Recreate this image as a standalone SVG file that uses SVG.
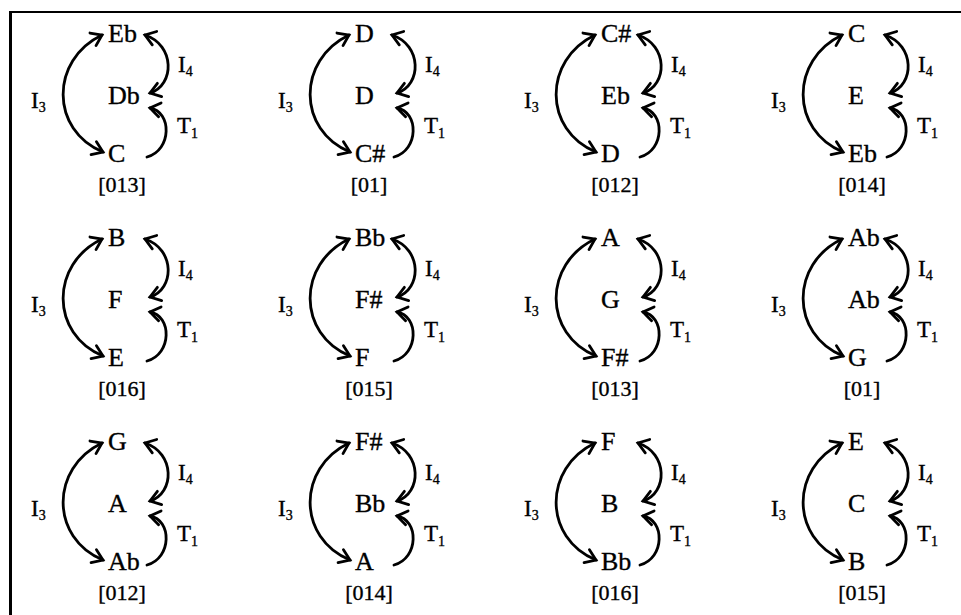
<svg xmlns="http://www.w3.org/2000/svg" width="961" height="615" viewBox="0 0 961 615">
<style>
text{font-family:"Liberation Serif","Times New Roman",serif;fill:#000;stroke:#000;stroke-width:0.35}
.n{font-size:26px}
.lb{font-size:22px;text-anchor:middle}
.op{font-size:23px}
.sub{font-size:14px}
.c{fill:none;stroke:#000;stroke-width:2.8;stroke-linecap:round}
.i3{marker-start:url(#ah);marker-end:url(#ah)}
.i4{marker-start:url(#ah);marker-end:url(#ah)}
.t1{marker-end:url(#ah)}
</style>
<defs>
<marker id="ah" viewBox="-13 -10 16 20" refX="0" refY="0" markerWidth="16" markerHeight="20" markerUnits="userSpaceOnUse" orient="auto-start-reverse">
<path d="M-10,-7 L0,0 L-10,7" fill="none" stroke="#000" stroke-width="2.8" stroke-linejoin="miter" stroke-linecap="round"/>
</marker>
<g id="ops">
<text class="op" x="-77" y="66">I<tspan class="sub" dy="4">3</tspan></text>
<text class="op" x="70" y="30">I<tspan class="sub" dy="4">4</tspan></text>
<text class="op" x="69" y="91">T<tspan class="sub" dy="5">1</tspan></text>
</g>
</defs>
<rect width="961" height="615" fill="#fff"/>
<g id="frame" stroke="#000" fill="none">
<line x1="9" y1="12" x2="961" y2="12" stroke-width="2.2"/>
<line x1="10.5" y1="11" x2="10.5" y2="615" stroke-width="3"/>
</g>

<g id="connectors">
<g transform="translate(108,42)"><path class="c i3" d="M-6,-7 C-58,18 -58,88 -5,110"/><path class="c i4" d="M37,-7 C67,3 67,43 42,51"/><path class="c t1" d="M39,115 C64,108 64,70 42,66"/></g>
<g transform="translate(355,42)"><path class="c i3" d="M-6,-7 C-58,18 -58,88 -5,110"/><path class="c i4" d="M37,-7 C67,3 67,43 42,51"/><path class="c t1" d="M39,115 C64,108 64,70 42,66"/></g>
<g transform="translate(601,42)"><path class="c i3" d="M-6,-7 C-58,18 -58,88 -5,110"/><path class="c i4" d="M37,-7 C67,3 67,43 42,51"/><path class="c t1" d="M39,115 C64,108 64,70 42,66"/></g>
<g transform="translate(848,42)"><path class="c i3" d="M-6,-7 C-58,18 -58,88 -5,110"/><path class="c i4" d="M37,-7 C67,3 67,43 42,51"/><path class="c t1" d="M39,115 C64,108 64,70 42,66"/></g>
<g transform="translate(108,246)"><path class="c i3" d="M-6,-7 C-58,18 -58,88 -5,110"/><path class="c i4" d="M37,-7 C67,3 67,43 42,51"/><path class="c t1" d="M39,115 C64,108 64,70 42,66"/></g>
<g transform="translate(355,246)"><path class="c i3" d="M-6,-7 C-58,18 -58,88 -5,110"/><path class="c i4" d="M37,-7 C67,3 67,43 42,51"/><path class="c t1" d="M39,115 C64,108 64,70 42,66"/></g>
<g transform="translate(601,246)"><path class="c i3" d="M-6,-7 C-58,18 -58,88 -5,110"/><path class="c i4" d="M37,-7 C67,3 67,43 42,51"/><path class="c t1" d="M39,115 C64,108 64,70 42,66"/></g>
<g transform="translate(848,246)"><path class="c i3" d="M-6,-7 C-58,18 -58,88 -5,110"/><path class="c i4" d="M37,-7 C67,3 67,43 42,51"/><path class="c t1" d="M39,115 C64,108 64,70 42,66"/></g>
<g transform="translate(108,450)"><path class="c i3" d="M-6,-7 C-58,18 -58,88 -5,110"/><path class="c i4" d="M37,-7 C67,3 67,43 42,51"/><path class="c t1" d="M39,115 C64,108 64,70 42,66"/></g>
<g transform="translate(355,450)"><path class="c i3" d="M-6,-7 C-58,18 -58,88 -5,110"/><path class="c i4" d="M37,-7 C67,3 67,43 42,51"/><path class="c t1" d="M39,115 C64,108 64,70 42,66"/></g>
<g transform="translate(601,450)"><path class="c i3" d="M-6,-7 C-58,18 -58,88 -5,110"/><path class="c i4" d="M37,-7 C67,3 67,43 42,51"/><path class="c t1" d="M39,115 C64,108 64,70 42,66"/></g>
<g transform="translate(848,450)"><path class="c i3" d="M-6,-7 C-58,18 -58,88 -5,110"/><path class="c i4" d="M37,-7 C67,3 67,43 42,51"/><path class="c t1" d="M39,115 C64,108 64,70 42,66"/></g>
</g>

<g id="cell-r0c0" transform="translate(108,42)">
<g id="r0c0-top"><text class="n" x="0" y="0">Eb</text></g>
<g id="r0c0-mid"><text class="n" x="0" y="62">Db</text></g>
<g id="r0c0-bot"><text class="n" x="0" y="120">C</text></g>
<text class="lb" x="14" y="150">[013]</text><use href="#ops"/>
</g>
<g id="cell-r0c1" transform="translate(355,42)">
<g id="r0c1-top"><text class="n" x="0" y="0">D</text></g>
<g id="r0c1-mid"><text class="n" x="0" y="62">D</text></g>
<g id="r0c1-bot"><text class="n" x="0" y="120">C#</text></g>
<text class="lb" x="14" y="150">[01]</text><use href="#ops"/>
</g>
<g id="cell-r0c2" transform="translate(601,42)">
<g id="r0c2-top"><text class="n" x="0" y="0">C#</text></g>
<g id="r0c2-mid"><text class="n" x="0" y="62">Eb</text></g>
<g id="r0c2-bot"><text class="n" x="0" y="120">D</text></g>
<text class="lb" x="14" y="150">[012]</text><use href="#ops"/>
</g>
<g id="cell-r0c3" transform="translate(848,42)">
<g id="r0c3-top"><text class="n" x="0" y="0">C</text></g>
<g id="r0c3-mid"><text class="n" x="0" y="62">E</text></g>
<g id="r0c3-bot"><text class="n" x="0" y="120">Eb</text></g>
<text class="lb" x="14" y="150">[014]</text><use href="#ops"/>
</g>

<g id="cell-r1c0" transform="translate(108,246)">
<g id="r1c0-top"><text class="n" x="0" y="0">B</text></g>
<g id="r1c0-mid"><text class="n" x="0" y="62">F</text></g>
<g id="r1c0-bot"><text class="n" x="0" y="120">E</text></g>
<text class="lb" x="14" y="150">[016]</text><use href="#ops"/>
</g>
<g id="cell-r1c1" transform="translate(355,246)">
<g id="r1c1-top"><text class="n" x="0" y="0">Bb</text></g>
<g id="r1c1-mid"><text class="n" x="0" y="62">F#</text></g>
<g id="r1c1-bot"><text class="n" x="0" y="120">F</text></g>
<text class="lb" x="14" y="150">[015]</text><use href="#ops"/>
</g>
<g id="cell-r1c2" transform="translate(601,246)">
<g id="r1c2-top"><text class="n" x="0" y="0">A</text></g>
<g id="r1c2-mid"><text class="n" x="0" y="62">G</text></g>
<g id="r1c2-bot"><text class="n" x="0" y="120">F#</text></g>
<text class="lb" x="14" y="150">[013]</text><use href="#ops"/>
</g>
<g id="cell-r1c3" transform="translate(848,246)">
<g id="r1c3-top"><text class="n" x="0" y="0">Ab</text></g>
<g id="r1c3-mid"><text class="n" x="0" y="62">Ab</text></g>
<g id="r1c3-bot"><text class="n" x="0" y="120">G</text></g>
<text class="lb" x="14" y="150">[01]</text><use href="#ops"/>
</g>

<g id="cell-r2c0" transform="translate(108,450)">
<g id="r2c0-top"><text class="n" x="0" y="0">G</text></g>
<g id="r2c0-mid"><text class="n" x="0" y="62">A</text></g>
<g id="r2c0-bot"><text class="n" x="0" y="120">Ab</text></g>
<text class="lb" x="14" y="150">[012]</text><use href="#ops"/>
</g>
<g id="cell-r2c1" transform="translate(355,450)">
<g id="r2c1-top"><text class="n" x="0" y="0">F#</text></g>
<g id="r2c1-mid"><text class="n" x="0" y="62">Bb</text></g>
<g id="r2c1-bot"><text class="n" x="0" y="120">A</text></g>
<text class="lb" x="14" y="150">[014]</text><use href="#ops"/>
</g>
<g id="cell-r2c2" transform="translate(601,450)">
<g id="r2c2-top"><text class="n" x="0" y="0">F</text></g>
<g id="r2c2-mid"><text class="n" x="0" y="62">B</text></g>
<g id="r2c2-bot"><text class="n" x="0" y="120">Bb</text></g>
<text class="lb" x="14" y="150">[016]</text><use href="#ops"/>
</g>
<g id="cell-r2c3" transform="translate(848,450)">
<g id="r2c3-top"><text class="n" x="0" y="0">E</text></g>
<g id="r2c3-mid"><text class="n" x="0" y="62">C</text></g>
<g id="r2c3-bot"><text class="n" x="0" y="120">B</text></g>
<text class="lb" x="14" y="150">[015]</text><use href="#ops"/>
</g>
</svg>
